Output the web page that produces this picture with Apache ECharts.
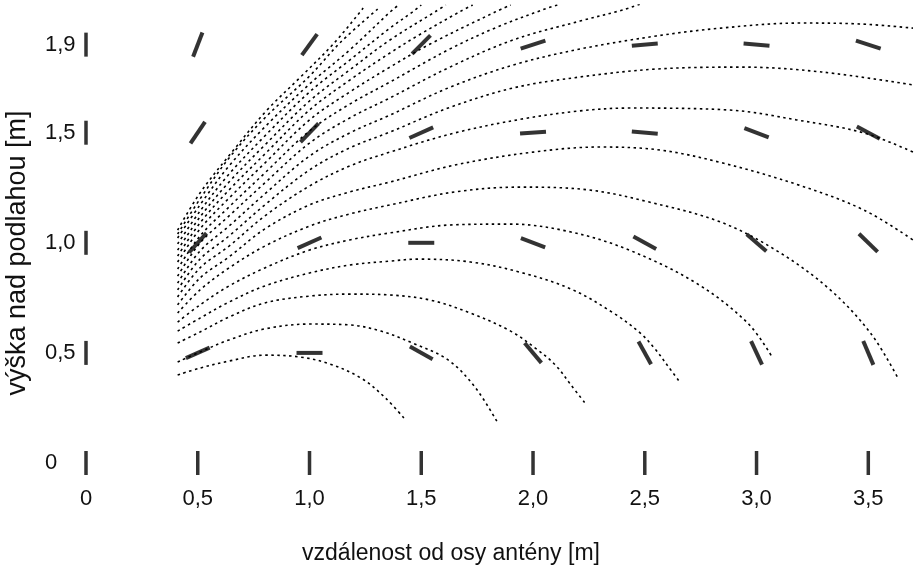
<!DOCTYPE html>
<html>
<head>
<meta charset="utf-8">
<script src="https://cdn.jsdelivr.net/npm/echarts@6/dist/echarts.min.js"></script>
<style>
  html, body { margin: 0; padding: 0; background: #fff; }
  #chart { width: 915px; height: 566px; }
</style>
</head>
<body>
<div id="chart"></div>
<script>
// osy
var xTicks = [0, 0.5, 1.0, 1.5, 2.0, 2.5, 3.0, 3.5];
var xTickLabels = ['0', '0,5', '1,0', '1,5', '2,0', '2,5', '3,0', '3,5'];
var yTicks = [0, 0.5, 1.0, 1.5, 1.9];
var yTickLabels = ['0', '0,5', '1,0', '1,5', '1,9'];

// smer pole v bodech mereni (stupne)
var dashCols = [0.5, 1.0, 1.5, 2.0, 2.5, 3.0, 3.5];
var dashRows = [0.5, 1.0, 1.5, 1.9];
var dashAngle05 = [24, 0, -29, -50, -61, -65, -67];
var dashAngle10 = [48, 24, 0, -21, -29, -41, -44];
var dashAngle15 = [56, 46, 24, 4, -5, -21, -28];
var dashAngle19 = [69, 54, 45, 18, 5, -5, -18];

// silocary [x, y]
var lineA = [[0.41,0.40],[0.51,0.431],[0.64,0.463],[0.80,0.49],[0.96,0.481],[1.09,0.45],[1.23,0.386],[1.34,0.295],[1.43,0.195]];
var lineB = [[0.41,0.459],[0.51,0.504],[0.64,0.559],[0.80,0.609],[1.0,0.631],[1.18,0.627],[1.32,0.599],[1.46,0.545],[1.62,0.468],[1.74,0.345],[1.84,0.186]];
var lineC = [[0.41,0.545],[0.51,0.595],[0.64,0.663],[0.80,0.727],[1.0,0.758],[1.18,0.767],[1.36,0.763],[1.54,0.74],[1.72,0.681],[1.90,0.599],[2.01,0.522],[2.10,0.445],[2.17,0.354],[2.24,0.263]];
var lineD = [[0.41,0.599],[0.51,0.658],[0.64,0.731],[0.80,0.804],[1.0,0.863],[1.18,0.899],[1.36,0.917],[1.49,0.926],[1.72,0.913],[1.94,0.867],[2.17,0.79],[2.36,0.681],[2.48,0.59],[2.55,0.513],[2.60,0.445],[2.66,0.363]];
var lineE = [[0.41,0.64],[0.51,0.718],[0.64,0.804],[0.80,0.886],[1.0,0.967],[1.18,1.013],[1.36,1.045],[1.63,1.081],[1.90,1.085],[2.17,1.049],[2.43,0.967],[2.73,0.817],[2.96,0.636],[3.07,0.481]];
var lineF = [[0.41,0.681],[0.51,0.786],[0.64,0.886],[0.80,0.985],[1.0,1.076],[1.18,1.131],[1.36,1.172],[1.65,1.231],[1.94,1.253],[2.25,1.24],[2.52,1.185],[2.84,1.094],[3.10,0.958],[3.33,0.786],[3.51,0.59],[3.63,0.391]];
var lineG = [[0.41,0.718],[0.51,0.84],[0.64,0.936],[0.80,1.063],[1.0,1.172],[1.18,1.231],[1.36,1.276],[1.65,1.353],[2.0,1.412],[2.30,1.435],[2.57,1.421],[2.85,1.362],[3.19,1.262],[3.48,1.149],[3.70,1.013]];
var lineH = [[0.41,0.754],[0.51,0.886],[0.64,0.985],[0.80,1.122],[1.0,1.258],[1.18,1.349],[1.36,1.412],[1.65,1.499],[1.95,1.562],[2.21,1.599],[2.43,1.612],[2.88,1.603],[3.18,1.558],[3.48,1.499],[3.70,1.412]];
var lineI = [[0.41,0.786],[0.51,0.926],[0.64,1.031],[0.80,1.172],[1.0,1.331],[1.18,1.431],[1.36,1.503],[1.62,1.612],[1.91,1.703],[2.21,1.753],[2.55,1.789],[2.93,1.798],[3.29,1.776],[3.70,1.717]];
var lineJ = [[0.41,0.817],[0.51,0.963],[0.64,1.076],[0.80,1.222],[1.0,1.394],[1.18,1.499],[1.36,1.58],[1.62,1.703],[1.91,1.807],[2.21,1.88],[2.55,1.939],[2.84,1.975],[3.19,1.998],[3.46,1.994],[3.70,1.975]];
var lineK = [[0.41,0.849],[0.51,0.999],[0.64,1.122],[0.80,1.272],[1.0,1.453],[1.18,1.567],[1.36,1.658],[1.62,1.794],[1.91,1.921],[2.21,2.007],[2.40,2.057],[2.48,2.084]];
var lineL = [[0.41,0.881],[0.51,1.031],[0.64,1.163],[0.80,1.317],[1.0,1.508],[1.18,1.63],[1.36,1.73],[1.62,1.876],[1.84,1.98],[2.04,2.057],[2.12,2.084]];
var lineM = [[0.41,0.913],[0.51,1.063],[0.64,1.203],[0.80,1.362],[1.0,1.558],[1.18,1.685],[1.36,1.798],[1.54,1.903],[1.83,2.048],[1.90,2.08]];
var lineN = [[0.41,0.94],[0.51,1.09],[0.64,1.24],[0.80,1.403],[1.0,1.603],[1.18,1.739],[1.36,1.862],[1.49,1.944],[1.67,2.048],[1.73,2.08]];
var lineO = [[0.41,0.967],[0.51,1.117],[0.64,1.276],[0.80,1.444],[1.0,1.644],[1.18,1.785],[1.36,1.921],[1.56,2.048],[1.61,2.08]];
var lineP = [[0.41,0.995],[0.51,1.144],[0.64,1.312],[0.80,1.485],[1.0,1.685],[1.18,1.83],[1.36,1.975],[1.46,2.048],[1.50,2.08]];
var lineQ = [[0.41,1.022],[0.51,1.172],[0.64,1.349],[0.80,1.526],[1.0,1.721],[1.18,1.876],[1.37,2.057],[1.40,2.08]];
var lineR = [[0.41,1.04],[0.51,1.199],[0.64,1.385],[0.80,1.567],[1.0,1.757],[1.14,1.912],[1.31,2.066]];
var lineS = [[0.41,1.058],[0.51,1.226],[0.66,1.421],[0.81,1.603],[0.96,1.753],[1.11,1.907],[1.24,2.066]];

var fieldLines = [lineA, lineB, lineC, lineD, lineE, lineF, lineG, lineH, lineI, lineJ,
    lineK, lineL, lineM, lineN, lineO, lineP, lineQ, lineR, lineS];

var FONT = '"Liberation Sans", Arial, sans-serif';

function labelOf(values, labels) {
    return function (v) {
        for (var i = 0; i < values.length; i++) {
            if (Math.abs(values[i] - v) < 1e-6) return labels[i];
        }
        return '';
    };
}

var chart = echarts.init(document.getElementById('chart'), null, { renderer: 'canvas' });

var series = [];
// silocary - teckovane
for (var i = 0; i < fieldLines.length; i++) {
    series.push({
        type: 'line',
        data: fieldLines[i],
        smooth: 0.35,
        showSymbol: false,
        silent: true,
        clip: true,
        lineStyle: { color: '#000', width: 1.6, type: [2.5, 3.5] },
        z: 2
    });
}

// kratke carky - smer pole
var dashData = [];
var angleRows = [dashAngle05, dashAngle10, dashAngle15, dashAngle19];
for (var r = 0; r < dashRows.length; r++) {
    for (var c = 0; c < dashCols.length; c++) {
        dashData.push({ value: [dashCols[c], dashRows[r]], symbolRotate: angleRows[r][c] });
    }
}
series.push({
    type: 'scatter',
    data: dashData,
    symbol: 'rect',
    symbolSize: [26, 4],
    clip: false,
    silent: true,
    itemStyle: { color: '#000' },
    z: 5
});

// znacky na osach (svisle carky)
var tickBars = xTicks.map(function (x) { return [x, 0]; })
    .concat(yTicks.slice(1).map(function (y) { return [0, y]; }));
series.push({
    type: 'scatter',
    data: tickBars,
    symbol: 'rect',
    symbolSize: [3.5, 24],
    clip: false,
    silent: true,
    itemStyle: { color: '#000' },
    z: 5
});

var option = {
    backgroundColor: '#fff',
    animation: false,
    grid: { left: 86, right: 2, top: 5, bottom: 103, containLabel: false },
    xAxis: {
        type: 'value',
        min: 0,
        max: 3.7,
        axisLine: { show: false },
        axisTick: { show: false },
        splitLine: { show: false },
        axisLabel: {
            customValues: xTicks,
            formatter: labelOf(xTicks, xTickLabels),
            fontSize: 22,
            fontFamily: FONT,
            color: '#111',
            margin: 25
        }
    },
    yAxis: {
        type: 'value',
        min: 0,
        max: 2.08,
        axisLine: { show: false },
        axisTick: { show: false },
        splitLine: { show: false },
        axisLabel: {
            customValues: yTicks,
            formatter: labelOf(yTicks, yTickLabels),
            fontSize: 22,
            fontFamily: FONT,
            color: '#111',
            align: 'left',
            margin: 41
        }
    },
    graphic: [
        {
            type: 'text',
            x: 451,
            y: 554,
            silent: true,
            style: {
                text: 'vzdálenost od osy antény [m]',
                fontSize: 23,
                fontFamily: FONT,
                fill: '#111',
                align: 'center',
                verticalAlign: 'middle',
                textAlign: 'center',
                textVerticalAlign: 'middle'
            }
        },
        {
            type: 'text',
            x: 18,
            y: 253,
            rotation: Math.PI / 2,
            silent: true,
            style: {
                text: 'výška nad podlahou [m]',
                fontSize: 27,
                fontFamily: FONT,
                fill: '#111',
                align: 'center',
                verticalAlign: 'middle',
                textAlign: 'center',
                textVerticalAlign: 'middle'
            }
        }
    ],
    series: series
};

chart.setOption(option);
</script>
</body>
</html>
